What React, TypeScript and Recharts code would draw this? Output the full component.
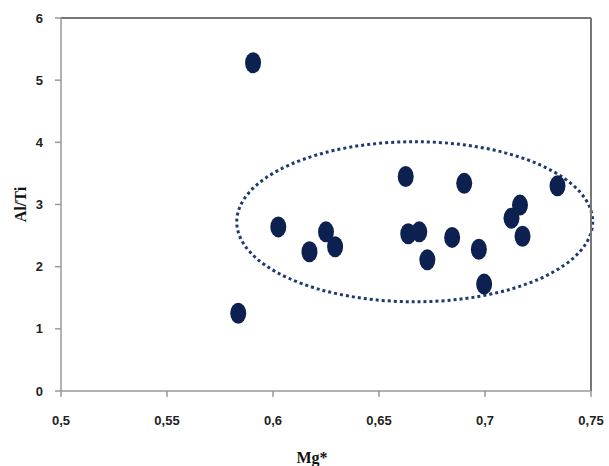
import React from "react";
import {
    ScatterChart,
    Scatter,
    XAxis,
    YAxis,
    ReferenceLine,
    ReferenceArea,
} from "recharts";

// Mg* vs Al/Ti
const mgValues = [
    0.5906, 0.5836, 0.6025, 0.6172, 0.625, 0.6293, 0.6626, 0.6638, 0.669,
    0.6728, 0.6845, 0.6902, 0.6971, 0.6996, 0.7125, 0.7165, 0.7177, 0.7342,
];
const alTiValues = [
    5.28, 1.25, 2.64, 2.24, 2.56, 2.32, 3.45, 2.53, 2.56, 2.11, 2.47, 3.34,
    2.28, 1.72, 2.78, 2.99, 2.49, 3.3,
];

const xTicks = [0.5, 0.55, 0.6, 0.65, 0.7, 0.75];
const yTicks = [0, 1, 2, 3, 4, 5, 6];

// group outline (ellipse bounds in data units)
const groupX = [0.5829, 0.7508];
const groupY = [1.435, 4.01];

const points = mgValues.map((mg, i) => ({ mg, alti: alTiValues[i] }));

const tickStyle = {
    fill: "#222",
    fontFamily: "Liberation Sans, Arial, sans-serif",
    fontSize: 13,
    fontWeight: 700,
};

const titleStyle = {
    fill: "#111",
    fontFamily: "Liberation Serif, serif",
    fontSize: 16,
    fontWeight: 700,
};

const Dot = (props: any) => (
    <ellipse cx={props.cx} cy={props.cy} rx={8} ry={10.5} fill="#0d2150" />
);

const GroupEllipse = (props: any) => (
    <ellipse
        cx={props.x + props.width / 2}
        cy={props.y + props.height / 2}
        rx={props.width / 2}
        ry={props.height / 2}
        fill="none"
        stroke="#1f3a70"
        strokeWidth={3}
        strokeDasharray="3 3"
    />
);

const App = () => {
    return (
        <div style={{ position: "absolute", left: 0, top: 0, background: "#fff" }}>
            <ScatterChart
                width={609}
                height={466}
                margin={{ top: 18, right: 18, bottom: 0, left: 0 }}
            >
                <XAxis
                    type="number"
                    dataKey="mg"
                    domain={[0.5, 0.75]}
                    ticks={xTicks}
                    interval={0}
                    height={75}
                    stroke="#999"
                    strokeWidth={1.5}
                    tickSize={6}
                    tickMargin={19}
                    tick={tickStyle}
                    tickFormatter={(v: number) => String(v).replace(".", ",")}
                    label={{
                        value: "Mg*",
                        position: "insideBottom",
                        offset: 3,
                        dx: -14,
                        style: titleStyle,
                    }}
                />
                <YAxis
                    type="number"
                    dataKey="alti"
                    domain={[0, 6]}
                    ticks={yTicks}
                    interval={0}
                    width={61}
                    stroke="#999"
                    strokeWidth={1.5}
                    tickSize={6}
                    tickMargin={12}
                    tick={tickStyle}
                    label={{
                        value: "Al/Ti",
                        angle: -90,
                        position: "insideLeft",
                        offset: 20,
                        style: { ...titleStyle, textAnchor: "middle" },
                    }}
                />
                <ReferenceLine y={6} stroke="#777" strokeWidth={2} />
                <ReferenceLine x={0.75} stroke="#777" strokeWidth={2} />
                <Scatter
                    data={points}
                    shape={Dot}
                    isAnimationActive={false}
                />
                <ReferenceArea
                    x1={groupX[0]}
                    x2={groupX[1]}
                    y1={groupY[0]}
                    y2={groupY[1]}
                    ifOverflow="visible"
                    shape={GroupEllipse}
                />
            </ScatterChart>
        </div>
    );
};

export default App;
